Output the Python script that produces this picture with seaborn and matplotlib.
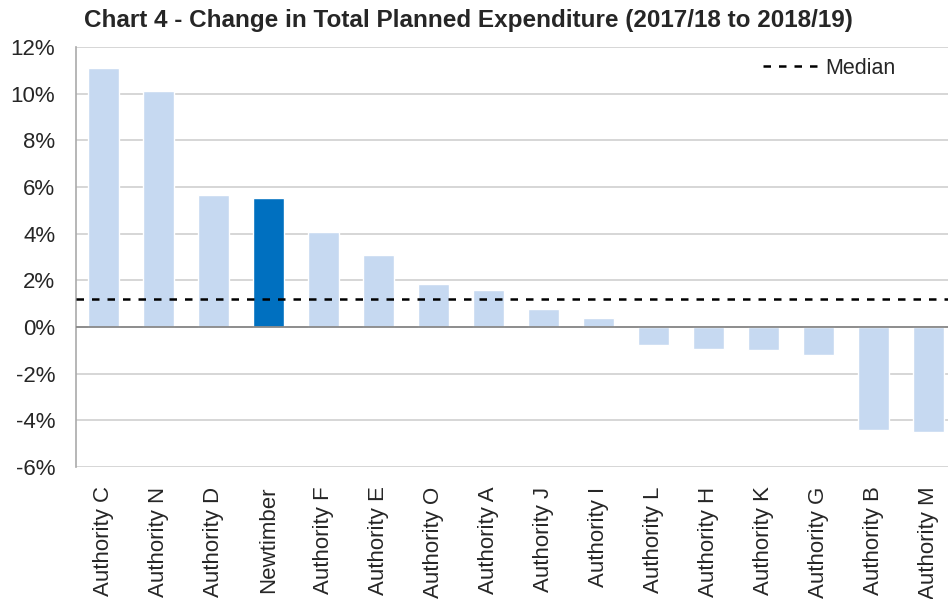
import numpy as np
import pandas as pd
import matplotlib
matplotlib.use("Agg")
import matplotlib.pyplot as plt
import seaborn as sns
from matplotlib.ticker import PercentFormatter

# values (% change)
authorities = ["Authority C", "Authority N", "Authority D", "Newtimber", "Authority F",
               "Authority E", "Authority O", "Authority A", "Authority J", "Authority I",
               "Authority L", "Authority H", "Authority K", "Authority G", "Authority B",
               "Authority M"]
change = [11.1, 10.1, 5.66, 5.53, 4.07, 3.09, 1.84, 1.59, 0.77, 0.39,
          -0.77, -0.94, -0.99, -1.2, -4.41, -4.5]
highlight = "Newtimber"

df = pd.DataFrame({"authority": authorities, "change": change})
df["group"] = np.where(df["authority"] == highlight, "us", "other")
median = np.median(change)

sns.set_style("white")
plt.rcParams["font.family"] = ["Liberation Sans", "DejaVu Sans"]
plt.rcParams["axes.unicode_minus"] = False

fig = plt.figure(figsize=(9.48, 5.99), dpi=100)
ax = fig.add_axes([0.0802, 0.2204, 0.928, 0.701])

sns.barplot(data=df, x="authority", y="change", hue="group",
            palette={"us": "#0070c0", "other": "#c6d9f1"}, saturation=1,
            width=0.56, dodge=False, legend=False, ax=ax, zorder=3)

ax.axhline(median, color="black", ls=(0, (3.0, 3.2)), lw=1.8, zorder=4, label="Median")
ax.axhline(0, color="#888888", lw=1.3, zorder=3.5)

ax.set_ylim(-6, 12)
ax.set_yticks(np.arange(-6, 13, 2))
ax.yaxis.set_major_formatter(PercentFormatter(decimals=0))
ax.grid(axis="y", color="#d0d0d0", lw=1.2, zorder=0)
ax.set_xlim(-0.5, len(authorities) - 0.5)

for s in ["top", "right", "bottom"]:
    ax.spines[s].set_visible(False)
ax.spines["left"].set_color("#aaaaaa")
ax.spines["left"].set_linewidth(1.2)

ax.tick_params(axis="y", labelsize=16, length=0, pad=15)
ax.tick_params(axis="x", labelsize=16, rotation=90, length=0, pad=14)
ax.set_xlabel("")
ax.set_ylabel("")

ax.legend(loc="center left", bbox_to_anchor=(0.781, 0.95), frameon=False,
          fontsize=15.5, handlelength=2.5, handletextpad=0.4,
          borderpad=0, borderaxespad=0)

fig.text(0.089, 0.955, "Chart 4 - Change in Total Planned Expenditure (2017/18 to 2018/19)",
         fontsize=17.5, fontweight="bold", ha="left", va="baseline")

fig.savefig("out.png", dpi=100)
